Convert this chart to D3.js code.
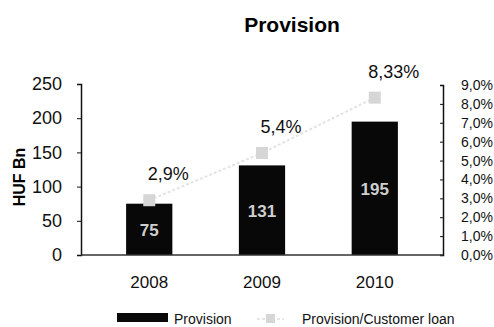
<!DOCTYPE html>
<html><head><meta charset="utf-8">
<script src="https://cdn.jsdelivr.net/npm/d3@7/dist/d3.min.js"></script>
<style>body{margin:0;background:#fff}svg{display:block}text{font-family:"Liberation Sans",Arial,sans-serif}</style>
</head><body><svg id="c" width="494" height="327"></svg>
<script>
const categories = ["2008","2009","2010"];
const provision = [75,131,195];
const ratio = [2.9,5.4,8.33];
const ratioLabels = ["2,9%","5,4%","8,33%"];
const leftTicks = [0,50,100,150,200,250];
const rightTicks = [0,1,2,3,4,5,6,7,8,9];

const svg = d3.select("#c");
const x = d3.scaleBand().domain(categories).range([81,443]).paddingInner(0.59).paddingOuter(0.4);
const yL = d3.scaleLinear().domain([0,250]).range([255,84]);
const yR = d3.scaleLinear().domain([0,9]).range([255,85]);

// title
svg.append("text").attr("x",292).attr("y",32).attr("text-anchor","middle")
  .attr("font-size",21).attr("font-weight","bold").text("Provision");
// y title
svg.append("text").attr("transform","translate(25,177) rotate(-90)").attr("text-anchor","middle")
  .attr("font-size",16).attr("font-weight","bold").text("HUF Bn");

// left axis
const gL = svg.append("g").attr("transform","translate(81,0)")
  .call(d3.axisLeft(yL).tickValues(leftTicks).tickSize(4).tickPadding(15));
gL.selectAll("text").attr("font-size",18).attr("fill","#111");
gL.select(".domain").attr("stroke","#111").attr("stroke-width",1.5);
gL.selectAll(".tick line").attr("stroke","#111");

// right axis
const gR = svg.append("g").attr("transform","translate(443,0)")
  .call(d3.axisRight(yR).tickValues(rightTicks).tickSize(-3).tickPadding(18)
    .tickFormat(d=>d.toFixed(1).replace(".",",")+"%"));
gR.selectAll("text").attr("font-size",14).attr("fill","#111");
gR.select(".domain").attr("stroke","#111").attr("stroke-width",1.5);
gR.selectAll(".tick line").attr("stroke","#111");

// bars
const bw = x.bandwidth();
svg.selectAll(".bar").data(provision).join("rect")
  .attr("x",(d,i)=>x(categories[i])).attr("y",d=>yL(d))
  .attr("width",bw).attr("height",d=>yL(0)-yL(d)).attr("fill","#080808");
svg.selectAll(".blab").data(provision).join("text")
  .attr("x",(d,i)=>x(categories[i])+bw/2).attr("y",d=>(yL(d)+yL(0))/2+7)
  .attr("text-anchor","middle").attr("font-size",17).attr("font-weight","bold")
  .attr("fill","#cfcfcf").text(d=>d);

// baseline
svg.append("line").attr("x1",81).attr("x2",443).attr("y1",yL(0)).attr("y2",yL(0))
  .attr("stroke","#333").attr("stroke-width",1.5);

// ratio line
const cx = i=>x(categories[i])+bw/2;
svg.append("path").datum(ratio)
  .attr("d",d3.line().x((d,i)=>cx(i)).y(d=>yR(d)))
  .attr("fill","none").attr("stroke","#e4e4e4").attr("stroke-width",2).attr("stroke-dasharray","3,2");
svg.selectAll(".mk").data(ratio).join("rect")
  .attr("x",(d,i)=>cx(i)-6).attr("y",d=>yR(d)-6).attr("width",12).attr("height",12)
  .attr("fill","#d6d6d6");
svg.selectAll(".rlab").data(ratio).join("text")
  .attr("x",(d,i)=>cx(i)+19).attr("y",d=>yR(d)-20).attr("text-anchor","middle")
  .attr("font-size",18).attr("fill","#111").text((d,i)=>ratioLabels[i]);

// category labels
svg.selectAll(".cl").data(categories).join("text")
  .attr("x",d=>x(d)+bw/2).attr("y",288).attr("text-anchor","middle")
  .attr("font-size",17).attr("fill","#111").text(d=>d);

// legend
svg.append("rect").attr("x",117).attr("y",313).attr("width",51).attr("height",9).attr("fill","#080808");
svg.append("text").attr("x",174).attr("y",324).attr("font-size",14).attr("fill","#111").text("Provision");
svg.append("line").attr("x1",257).attr("x2",284).attr("y1",319).attr("y2",319)
  .attr("stroke","#e6e6e6").attr("stroke-width",2).attr("stroke-dasharray","3,2");
svg.append("rect").attr("x",266).attr("y",314).attr("width",9).attr("height",9).attr("fill","#d6d6d6");
svg.append("text").attr("x",302).attr("y",324).attr("font-size",14).attr("fill","#111").text("Provision/Customer loan");
</script></body></html>
